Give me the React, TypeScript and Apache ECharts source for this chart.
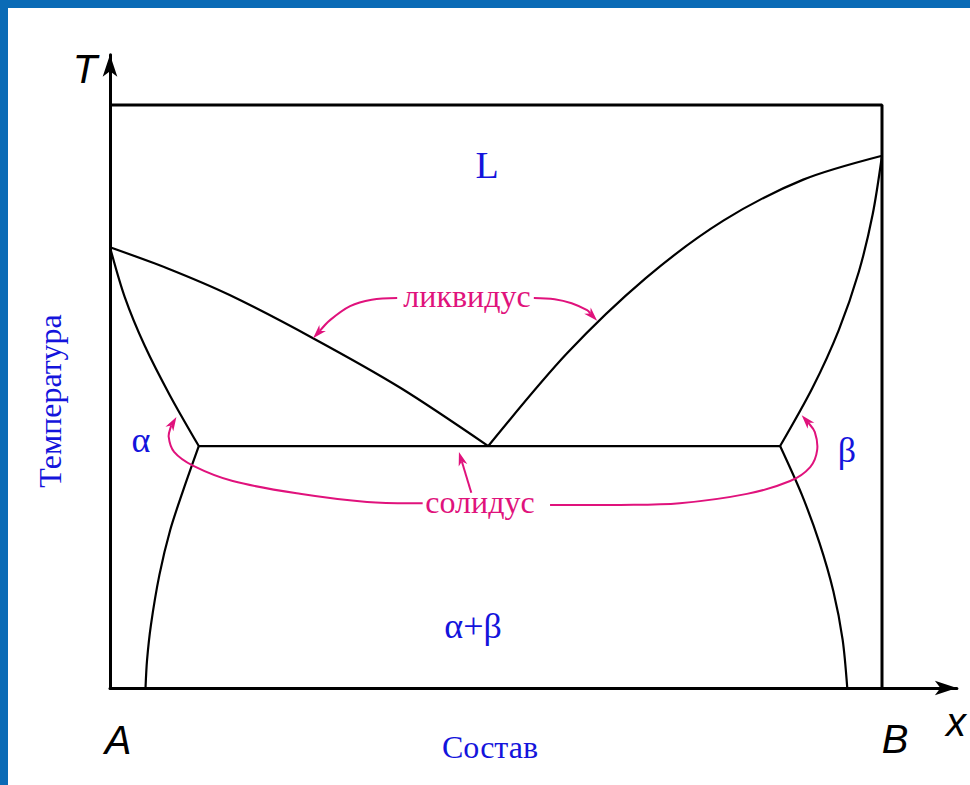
import React, { useEffect, useRef } from "react";
import * as echarts from "echarts";

// ---- Phase boundaries: x = composition (0 = A, 100 = B), y = temperature (relative units)
const liquidusA = [[0, 75.6], [7.4, 72.0], [15.5, 67.4], [26.3, 60.0], [37.6, 51.5], [49.0, 41.5]];
const liquidusB = [[49.0, 41.5], [59.2, 57.4], [69.4, 70.3], [79.5, 80.2], [89.8, 87.2], [100, 91.3]];
const solidusA = [[0, 75.6], [1.9, 67.1], [4.5, 58.7], [7.8, 50.1], [11.5, 41.5]];
const solidusB = [[100, 91.3], [98.8, 81.3], [97.0, 71.4], [94.4, 61.4], [91.0, 51.5], [86.8, 41.5]];
const eutecticLine = [[11.5, 41.5], [86.8, 41.5]];
const solvusA = [[11.5, 41.5], [9.5, 34.0], [7.8, 27.1], [6.4, 19.4], [5.3, 10.8], [4.8, 4.8], [4.6, 0]];
const solvusB = [[86.8, 41.5], [89.6, 33.2], [91.9, 24.9], [93.7, 16.6], [94.9, 8.3], [95.5, 0]];
const frameLine = [[0, 100], [100, 100], [100, 0]];

// ---- Annotation arrows (last point = arrow tip)
const arrowLiquidusLeft = [[37.2, 66.9], [33.9, 66.6], [31.1, 65.5], [28.5, 63.1], [26.3, 60.0]];
const arrowLiquidusRight = [[54.9, 66.9], [57.6, 66.7], [59.8, 66.0], [61.8, 64.8], [63.1, 63.0]];
const arrowSolidusMid = [[46.8, 33.5], [45.2, 40.5]];
const arrowSolidusLeft = [[40.5, 31.7], [33.3, 31.9], [24.6, 33.3], [15.9, 35.5], [10.8, 38.1], [8.3, 40.5], [7.6, 43.1], [7.9, 44.9], [8.6, 46.5]];
const arrowSolidusRight = [[57.0, 31.4], [66.1, 31.4], [73.8, 31.7], [82.5, 33.3], [88.1, 35.5], [90.7, 37.9], [91.6, 40.8], [91.3, 43.9], [90.4, 45.6], [89.6, 46.8]];
const annotations = [arrowLiquidusLeft, arrowLiquidusRight, arrowSolidusMid, arrowSolidusLeft, arrowSolidusRight];

// ---- Axis extents (arrows extend beyond the frame)
const X_MAX = 109.7;
const Y_MAX = 108.6;

// ---- Layout
const PX_X = 7.72;
const PX_Y = 5.83;
const AXIS_LEFT = 110;
const AXIS_BOTTOM = 688;

const BLUE_TEXT = "#1414dc";
const MAGENTA = "#e0127c";
const FRAME_BLUE = "#0a6bb6";
const SERIF = '"Liberation Serif", "Times New Roman", serif';
const SANS = '"Liberation Sans", Arial, sans-serif';

function txt(text: string, x: number, y: number, size: number, color: string, family: string, italic = false, rotation = 0) {
  return {
    type: "text",
    x,
    y,
    rotation,
    z: 20,
    style: {
      text,
      fill: color,
      font: `${italic ? "italic " : ""}${size}px ${family}`,
      textAlign: "center",
      textVerticalAlign: "middle",
    },
  };
}

export default function App() {
  const ref = useRef<HTMLDivElement>(null);

  useEffect(() => {
    if (!ref.current) return;
    const chart = echarts.init(ref.current, undefined, { renderer: "svg" });

    const gridWidth = X_MAX * PX_X;
    const gridHeight = Y_MAX * PX_Y;

    const boundary = (data: number[][], width = 2.2) => ({
      type: "line",
      data,
      smooth: 0.3,
      symbol: "none",
      silent: true,
      clip: false,
      lineStyle: { color: "#000", width },
      z: 5,
    });

    chart.setOption({
      animation: false,
      backgroundColor: "#fff",
      grid: {
        left: AXIS_LEFT,
        top: AXIS_BOTTOM - gridHeight,
        width: gridWidth,
        height: gridHeight,
      },
      xAxis: {
        type: "value",
        min: 0,
        max: X_MAX,
        axisLine: {
          show: true,
          onZero: false,
          symbol: ["none", "arrow"],
          symbolSize: [11, 22],
          lineStyle: { color: "#000", width: 3 },
        },
        axisTick: { show: false },
        axisLabel: { show: false },
        splitLine: { show: false },
      },
      yAxis: {
        type: "value",
        min: 0,
        max: Y_MAX,
        axisLine: {
          show: true,
          onZero: false,
          symbol: ["none", "arrow"],
          symbolSize: [11, 22],
          lineStyle: { color: "#000", width: 3 },
        },
        axisTick: { show: false },
        axisLabel: { show: false },
        splitLine: { show: false },
      },
      series: [
        { ...boundary(frameLine, 3), smooth: false },
        boundary(liquidusA),
        boundary(liquidusB),
        boundary(solidusA),
        boundary(solidusB),
        { ...boundary(eutecticLine), smooth: false },
        boundary(solvusA),
        boundary(solvusB),
        {
          type: "custom",
          coordinateSystem: "cartesian2d",
          silent: true,
          z: 8,
          data: annotations.map((pts, i) => [pts[pts.length - 1][0], pts[pts.length - 1][1], i]),
          renderItem: (params: any, api: any) => {
            const idx = api.value(2);
            const pts = annotations[idx].map((p) => api.coord(p));
            const n = pts.length;
            const tip = pts[n - 1];
            const prev = pts[n - 2];
            const dx = tip[0] - prev[0];
            const dy = tip[1] - prev[1];
            const len = Math.hypot(dx, dy) || 1;
            const ux = dx / len;
            const uy = dy / len;
            const px = -uy;
            const py = ux;
            const L = 14;
            const W = 4.5;
            const N = 10;
            const notch = [tip[0] - ux * N, tip[1] - uy * N];
            const head = [
              tip,
              [tip[0] - ux * L + px * W, tip[1] - uy * L + py * W],
              notch,
              [tip[0] - ux * L - px * W, tip[1] - uy * L - py * W],
            ];
            const body = pts.slice(0, n - 1).concat([notch]);
            return {
              type: "group",
              children: [
                {
                  type: "polyline",
                  shape: { points: body, smooth: 0.35 },
                  style: { stroke: MAGENTA, fill: "none", lineWidth: 2 },
                },
                {
                  type: "polygon",
                  shape: { points: head },
                  style: { fill: MAGENTA, stroke: "none" },
                },
              ],
            };
          },
        },
      ],
      graphic: [
        { type: "rect", shape: { x: 0, y: 0, width: 970, height: 8 }, style: { fill: FRAME_BLUE }, z: 30 },
        { type: "rect", shape: { x: 0, y: 0, width: 8, height: 785 }, style: { fill: FRAME_BLUE }, z: 30 },
        txt("L", 487, 165, 38, BLUE_TEXT, SERIF),
        txt("ликвидус", 467, 296, 32, MAGENTA, SERIF),
        txt("солидус", 480, 502, 32, MAGENTA, SERIF),
        txt("α", 141, 440, 36, BLUE_TEXT, SERIF),
        txt("β", 847, 450, 36, BLUE_TEXT, SERIF),
        txt("α+β", 473, 626, 36, BLUE_TEXT, SERIF),
        txt("Температура", 50, 401, 32, BLUE_TEXT, SERIF, false, Math.PI / 2),
        txt("Состав", 490, 747, 32, BLUE_TEXT, SERIF),
        txt("A", 118, 740, 40, "#000", SANS, true),
        txt("B", 895, 739, 40, "#000", SANS, true),
        txt("T", 85, 69, 40, "#000", SANS, true),
        txt("x", 956, 722, 40, "#000", SANS, true),
      ],
    });

    return () => chart.dispose();
  }, []);

  return (
    <div
      ref={ref}
      style={{ position: "absolute", left: 0, top: 0, width: 970, height: 785, background: "#fff" }}
    />
  );
}
